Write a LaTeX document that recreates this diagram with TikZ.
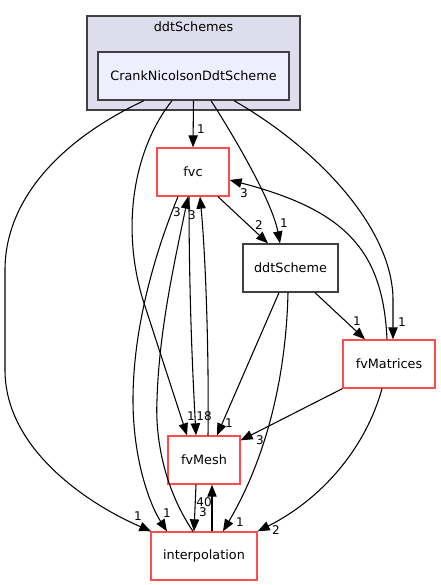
\documentclass[tikz,border=0pt]{standalone}
\usepackage{fontspec}
\setmainfont{DejaVu Sans}
\usetikzlibrary{arrows.meta,calc}
\definecolor{dgrey}{HTML}{404040}
\definecolor{clfill}{HTML}{DDDDEE}
\definecolor{dirfill}{HTML}{EEEEFF}
\definecolor{pkred}{HTML}{FF4B4B}

\begin{document}
\begin{tikzpicture}[x=0.75pt, y=-0.75pt,
    dep/.style={-{Triangle[length=9pt,width=7pt]}, line width=0.8pt},
    box/.style={draw=pkred, line width=1pt, minimum height=36pt, inner sep=0pt, font=\fontsize{9.6}{11}\selectfont},
    dirbox/.style={box, draw=dgrey},
    num/.style={inner sep=0pt, font=\fontsize{9}{10}\selectfont}]
    \useasboundingbox (0,0) rectangle (440,585);

    \node[draw=dgrey, line width=1pt, fill=clfill, minimum width=159.75pt, minimum height=70.5pt] (ddts) at (193.5,63) {};
    \node[font=\fontsize{9.6}{11}\selectfont] (ddtsl) at (193.5,27) {ddtSchemes};
    \node[dirbox, fill=dirfill, minimum width=143.25pt] (cns) at (193.5,76) {CrankNicolsonDdtScheme};

    \node[box, minimum width=54pt] (fvc) at (193,172) {fvc};
    \node[dirbox, minimum width=71.25pt] (ddt) at (290.5,268) {ddtScheme};
    \node[box, minimum width=69pt] (fvm) at (389,364) {fvMatrices};
    \node[box, minimum width=54pt] (mesh) at (204,460) {fvMesh};
    \node[box, minimum width=79.5pt] (intp) at (204,556) {interpolation};

    \draw[dep] (cns.south) -- (fvc.north) node[num] at (201,129) {1};
    \draw[dep] ($(cns.south)+(17.5,0)$) .. controls (230,130) and (272,200) .. ($(ddt.north)+(-10.5,0)$) node[num] at (284,223) {1};
    \draw[dep] ($(cns.south)+(40.5,0)$) .. controls (320,150) and (393,230) .. (393,300) -- ($(fvm.north)+(4,0)$) node[num] at (402,322) {1};
    \draw[dep] ($(cns.south)+(-49.5,0)$) .. controls (60,140) and (5,200) .. (5,270) -- (5,370) .. controls (5,450) and (90,505) .. ($(intp.north west)+(1,0)$) node[num] at (138,516) {1};
    \draw[dep] ($(cns.south)+(-21.5,0)$) .. controls (133,150) and (121,228) .. (143,300) -- ($(mesh.north)+(-17,0)$) node[num] at (191,416) {1};

    \draw[dep] ($(fvc.south)+(25,0)$) -- ($(ddt.north)+(-22.5,0)$) node[num] at (259,225) {2};
    \draw[dep] ($(fvc.south)+(-15,0)$) .. controls (160,240) and (133,320) .. (133,400) .. controls (133,460) and (150,505) .. ($(intp.north)+(-37,0)$) node[num] at (167,513) {1};
    \draw[dep] ($(fvc.south)+(-4,0)$) .. controls (189,300) and (193,380) .. ($(mesh.north)+(-8,0)$) node[num] at (204,416) {18};

    \draw[dep] ($(intp.north)+(-11,0)$) .. controls (165,490) and (155,440) .. (157,400) .. controls (159,330) and (175,260) .. ($(fvc.south)+(-5,0)$) node[num] at (177,212) {3};
    \draw[dep] ($(mesh.north)+(4,0)$) .. controls (209,360) and (206,260) .. ($(fvc.south)+(7,0)$) node[num] at (192,215) {3};

    \draw[dep] ($(ddt.south)+(-11.5,0)$) -- ($(mesh.north)+(13,0)$) node[num] at (229,423) {1};
    \draw[dep] ($(ddt.south)+(-2.5,0)$) .. controls (286,380) and (265,460) .. ($(intp.north)+(19,0)$) node[num] at (240,522) {1};
    \draw[dep] ($(ddt.south)+(24.5,0)$) -- ($(fvm.north)+(-24,0)$) node[num] at (357,321) {1};

    \draw[dep] (fvm.south west) -- ($(mesh.north east)+(0,5)$) node[num] at (260,440) {3};
    \draw[dep] ($(fvm.south)+(-7,0)$) .. controls (365,450) and (320,500) .. (intp.north east) node[num] at (276,530) {2};
    \draw[dep] ($(fvm.north)+(-2,0)$) .. controls (383,250) and (345,210) .. ($(fvc.east)+(0,8)$) node[num] at (244,193) {3};

    \draw[dep] ($(intp.north)+(8,0)$) -- ($(mesh.south)+(8,0)$) node[num] at (204,502) {40};
    \draw[dep] ($(mesh.south)+(-8,0)$) -- ($(intp.north)+(-10,0)$) node[num] at (203,512) {3};
\end{tikzpicture}
\end{document}
